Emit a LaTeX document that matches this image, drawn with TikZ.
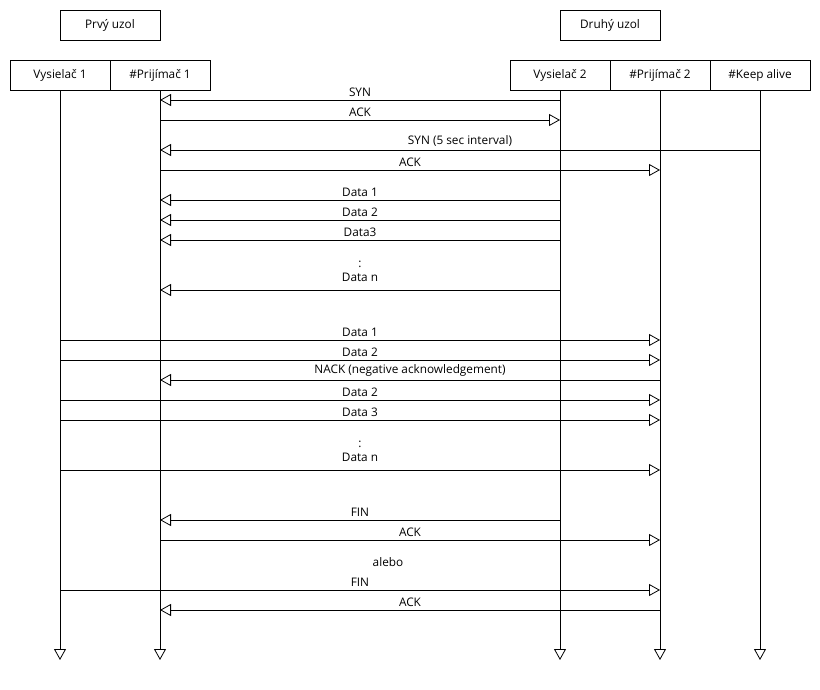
\documentclass[tikz,border=0pt]{standalone}
\usepackage{fontspec}
\setmainfont{Open Sans}
\usetikzlibrary{arrows.meta}
\tikzset{
	box/.style={draw, line width=0.8pt, minimum width=100pt, minimum height=30pt, inner sep=0pt},
	life/.style={line width=0.8pt, -{Triangle[open, length=11pt, width=12pt]}},
	msg/.style={line width=0.8pt, -{Triangle[open, length=11pt, width=12pt]}},
	lbl/.style={inner sep=0pt, anchor=south, yshift=3pt, align=center},
	lbltwo/.style={lbl, yshift=4.5pt}
}
\begin{document}
\begin{tikzpicture}[x=1pt, y=-1pt, font=\fontsize{11.8}{14}\selectfont]
	\useasboundingbox (0,0) rectangle (820,690);
	% uzly
	\node[box] at (110,25) (prvy) {Prvý uzol};
	\node[box] at (610,25) (druhy) {Druhý uzol};
	\node[box] at (60,75) (v1) {Vysielač 1};
	\node[box] at (160,75) (p1) {\#Prijímač 1};
	\node[box] at (560,75) (v2) {Vysielač 2};
	\node[box] at (660,75) (p2) {\#Prijímač 2};
	\node[box] at (760,75) (ka) {\#Keep alive};
	% ciary zivota
	\coordinate (v1e) at (60,660);
	\coordinate (p1e) at (160,660);
	\coordinate (v2e) at (560,660);
	\coordinate (p2e) at (660,660);
	\coordinate (kae) at (760,660);
	\draw[life] (v1) -- (v1e);
	\draw[life] (p1) -- (p1e);
	\draw[life] (v2) -- (v2e);
	\draw[life] (p2) -- (p2e);
	\draw[life] (ka) -- (kae);
	% spravy
	\foreach \from/\to/\y/\txt in {
		v2/p1/100/SYN,
		p1/v2/120/ACK,
		ka/p1/150/SYN (5 sec interval),
		p1/p2/170/ACK,
		v2/p1/200/Data 1,
		v2/p1/220/Data 2,
		v2/p1/240/Data3,
		v1/p2/340/Data 1,
		v1/p2/360/Data 2,
		p2/p1/380/NACK (negative acknowledgement),
		v1/p2/400/Data 2,
		v1/p2/420/Data 3,
		v2/p1/520/FIN,
		p1/p2/540/ACK,
		v1/p2/590/FIN,
		p2/p1/610/ACK}
		\draw[msg] (\from.south |- 0,\y) -- (\to.south |- 0,\y) node[lbl, midway] {\txt};
	\draw[msg] (v2.south |- 0,290) -- (p1.south |- 0,290) node[lbltwo, midway] {:\\Data n};
	\draw[msg] (v1.south |- 0,470) -- (p2.south |- 0,470) node[lbltwo, midway] {:\\Data n};
	\node at (388,562) (alebo) {alebo};
\end{tikzpicture}
\end{document}
